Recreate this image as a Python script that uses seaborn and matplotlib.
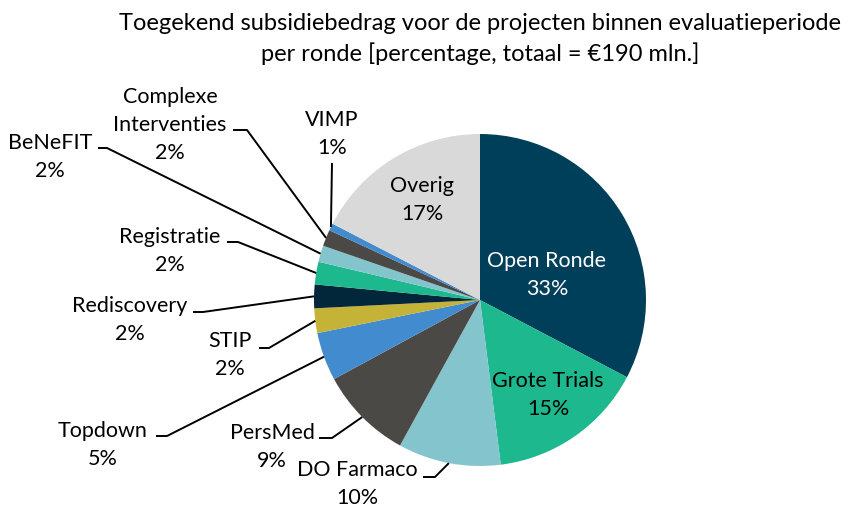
import matplotlib
matplotlib.use("Agg")
import matplotlib.pyplot as plt
import numpy as np
import seaborn as sns

# share of subsidy per round, clockwise from 12 o'clock
rondes = ["Open Ronde", "Grote Trials", "DO Farmaco", "PersMed", "Topdown", "STIP",
          "Rediscovery", "Registratie", "BeNeFIT", "Complexe\nInterventies", "VIMP", "Overig"]
aandeel = [32.7, 15.3, 10.0, 9.1, 4.7, 2.4, 2.3, 2.2, 1.6, 1.6, 0.7, 17.4]
kleuren = ["#003f5a", "#1db88e", "#84c4cc", "#4a4946", "#428bce", "#c4b336",
           "#03273a", "#1db88e", "#84c4cc", "#4a4946", "#428bce", "#d9d9d9"]
binnen = ["Open Ronde", "Grote Trials", "Overig"]

sns.set_theme(style="white")
plt.rcParams["font.family"] = ["Lato", "DejaVu Sans"]

W, H, CX, CY, R = 853, 508, 480, 300, 166


def px(x, y):
    # pixel position -> data units (pie radius = 1)
    return (x - CX) / R, (CY - y) / R


fig = plt.figure(figsize=(W / 100, H / 100), dpi=100)
ax = fig.add_axes([0, 0, 1, 1])
wedges, _ = ax.pie(aandeel, colors=kleuren, startangle=90, counterclock=False,
                   radius=1, wedgeprops=dict(linewidth=0))
ax.set_xlim(px(0, 0)[0], px(W, 0)[0])
ax.set_ylim(px(0, H)[1], px(0, 0)[1])
ax.set_aspect("auto")
ax.axis("off")

fs = 15.5
ls = 1.5
# text centre, elbow start, elbow end (pixels) for the outside labels
buiten = {
    "DO Farmaco": ((357, 484), (423, 477), (435, 477)),
    "PersMed": ((272, 447), (319, 438), (332, 438)),
    "Topdown": ((103, 445), (156, 436), (167, 436)),
    "STIP": ((230, 355), (259, 348), (269, 348)),
    "Rediscovery": ((130, 320), (193, 312), (203, 312)),
    "Registratie": ((170, 251), (227, 242), (238, 242)),
    "BeNeFIT": ((50, 157), (98, 148), (107, 148)),
    "Complexe\nInterventies": ((170, 125), (233, 130), (247, 130)),
    "VIMP": ((332, 134), None, (332, 163)),
}
binnen_pos = {"Open Ronde": (547, 275), "Grote Trials": (548, 395), "Overig": (422, 200)}

for w, naam, v in zip(wedges, rondes, aandeel):
    tekst = f"{naam}\n{v:.0f}%"
    if naam in binnen:
        kleur = "white" if naam == "Open Ronde" else "black"
        ax.text(*px(*binnen_pos[naam]), tekst, ha="center", va="center",
                fontsize=fs, color=kleur, linespacing=ls)
        continue
    pos, a, b = buiten[naam]
    ax.text(*px(*pos), tekst, ha="center", va="center", fontsize=fs,
            color="black", linespacing=ls)
    mid = np.deg2rad((w.theta1 + w.theta2) / 2)
    end = (np.cos(mid), np.sin(mid))
    pts = [px(*a)] if a else []
    pts += [px(*b), end]
    xs, ys = zip(*pts)
    ax.plot(xs, ys, color="black", lw=1.4, solid_capstyle="butt")

ax.text(*px(480, 39), "Toegekend subsidiebedrag voor de projecten binnen evaluatieperiode\n"
        "per ronde [percentage, totaal = \u20ac190 mln.]", ha="center", va="center",
        fontsize=17, color="black", linespacing=1.5)

fig.savefig("out.png", dpi=100)
